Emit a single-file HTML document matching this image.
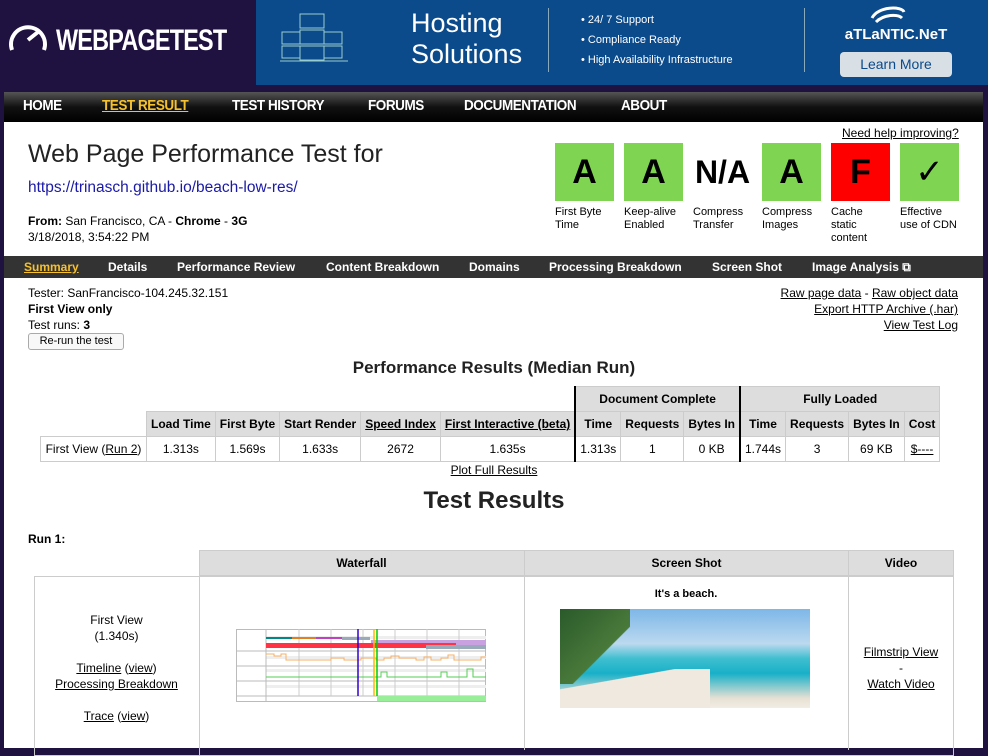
<!DOCTYPE html>
<html><head><meta charset="utf-8">
<style>
*{margin:0;padding:0;box-sizing:border-box}
body{width:988px;height:748px;overflow:hidden;background:#1f1140;font-family:"Liberation Sans",sans-serif;font-size:12px;color:#000;position:relative}
.a{position:absolute}
a{color:#000;text-decoration:underline}
.w{background:#fff}
.nav span{position:absolute;top:5px;color:#fff;font-weight:bold;font-size:15px;letter-spacing:-0.5px;transform:scaleX(.9);transform-origin:left}
.g{position:absolute;top:143px;width:59px;height:58px;background:#7fd452;font-size:34px;font-weight:bold;text-align:center;line-height:58px}
.gl{position:absolute;top:206px;font-size:11px;line-height:13px}
.sub span{position:absolute;top:4px;color:#fff;font-weight:bold;font-size:12px}
table{border-collapse:collapse;position:absolute;left:40px;top:386px;font-size:12px}
td{border:1px solid #ccc;text-align:center;padding:0 4px;height:25px;white-space:nowrap}
.h{background:#ddd;font-weight:bold}
.bl{border-left:2px solid #000}
</style></head><body>
<div class="a" style="left:8px;top:20px;color:#fff;font-size:30px;font-weight:bold;letter-spacing:-1px;white-space:nowrap">
<svg width="40" height="36" style="vertical-align:-6px" viewBox="0 0 40 36"><path d="M4 30 A17 17 0 1 1 36 30" stroke="#fff" stroke-width="4" fill="none"/><line x1="20" y1="20" x2="30" y2="12" stroke="#fff" stroke-width="4"/></svg><span style="display:inline-block;transform:scaleX(.78);transform-origin:left;margin-left:8px">WEBPAGETEST</span></div>
<div class="a" style="left:256px;top:0;width:732px;height:85px;background:#0b4a8b;color:#fff">
 <svg class="a" style="left:24px;top:12px" width="68" height="50"><g stroke="#9cc" fill="none"><rect x="20" y="2" width="24" height="14"/><rect x="20" y="18" width="24" height="14"/><rect x="20" y="34" width="24" height="14"/><rect x="2" y="20" width="18" height="12"/><rect x="2" y="34" width="18" height="12"/><rect x="44" y="20" width="18" height="12"/><rect x="44" y="34" width="18" height="12"/><line x1="0" y1="49" x2="68" y2="49"/></g></svg>
 <div class="a" style="left:155px;top:8px;font-size:27px;line-height:31px">Hosting<br>Solutions</div>
 <div class="a" style="left:292px;top:8px;width:1px;height:64px;background:#8ab"></div>
 <div class="a" style="left:325px;top:10px;font-size:11px;line-height:20px">• 24/ 7 Support<br>• Compliance Ready<br>• High Availability Infrastructure</div>
 <div class="a" style="left:548px;top:8px;width:1px;height:64px;background:#8ab"></div>
 <svg class="a" style="left:612px;top:4px" width="40" height="22"><path d="M4 14 C10 2 34 2 36 8 M8 18 C16 10 30 10 34 14" stroke="#fff" stroke-width="3" fill="none"/></svg>
 <div class="a" style="left:584px;top:26px;width:112px;text-align:center;font-size:15px;font-weight:bold">aTLaNTIC.NeT</div>
 <div class="a" style="left:584px;top:52px;width:112px;height:25px;background:#d8dfe5;border-radius:4px;color:#0b4a8b;font-size:14px;text-align:center;line-height:25px">Learn More</div>
</div>
<div class="a nav" style="left:4px;top:92px;width:979px;height:30px;background:linear-gradient(#555,#111 50%,#000)">
 <span style="left:19px">HOME</span>
 <span style="left:98px;color:#f6c12c;text-decoration:underline">TEST RESULT</span>
 <span style="left:228px">TEST HISTORY</span>
 <span style="left:364px">FORUMS</span>
 <span style="left:460px">DOCUMENTATION</span>
 <span style="left:617px">ABOUT</span>
</div>
<div class="a w" style="left:4px;top:122px;width:979px;height:626px"></div>
<a class="a" style="left:842px;top:126px">Need help improving?</a>
<div class="a" style="left:28px;top:140px;font-size:25px;color:#222">Web Page Performance Test for</div>
<a class="a" style="left:28px;top:179px;font-size:15.5px;color:#1a1aa6;text-decoration:none">https://trinasch.github.io/beach-low-res/</a>
<div class="a" style="left:28px;top:213px;font-size:12px;line-height:16px"><b>From:</b> San Francisco, CA - <b>Chrome</b> - <b>3G</b><br>3/18/2018, 3:54:22 PM</div>
<div class="g" style="left:555px">A</div>
<div class="g" style="left:624px">A</div>
<div class="g" style="left:691px;width:63px;background:none;font-size:32px">N/A</div>
<div class="g" style="left:762px">A</div>
<div class="g" style="left:831px;background:#f00">F</div>
<div class="g" style="left:900px;font-weight:normal">✓</div>
<div class="gl" style="left:555px">First Byte<br>Time</div>
<div class="gl" style="left:624px">Keep-alive<br>Enabled</div>
<div class="gl" style="left:693px">Compress<br>Transfer</div>
<div class="gl" style="left:762px">Compress<br>Images</div>
<div class="gl" style="left:831px">Cache<br>static<br>content</div>
<div class="gl" style="left:900px">Effective<br>use of CDN</div>
<div class="a sub" style="left:4px;top:256px;width:979px;height:22px;background:#333">
 <span style="left:20px;color:#f6c12c;text-decoration:underline">Summary</span>
 <span style="left:104px">Details</span>
 <span style="left:173px">Performance Review</span>
 <span style="left:322px">Content Breakdown</span>
 <span style="left:465px">Domains</span>
 <span style="left:545px">Processing Breakdown</span>
 <span style="left:708px">Screen Shot</span>
 <span style="left:808px">Image Analysis ⧉</span>
</div>
<div class="a" style="left:28px;top:285px;line-height:16px">Tester: SanFrancisco-104.245.32.151<br><b>First View only</b><br>Test runs: <b>3</b></div>
<div class="a" style="left:28px;top:333px;width:96px;height:17px;border:1px solid #aaa;border-radius:3px;font-size:11px;text-align:center;line-height:15px;background:#f8f8f8">Re-run the test</div>
<div class="a" style="right:30px;top:285px;text-align:right;line-height:16px">
<a>Raw page data</a> - <a>Raw object data</a><br>
<a>Export HTTP Archive (.har)</a><br>
<a>View Test Log</a></div>
<div class="a" style="left:0;width:988px;top:358px;text-align:center;font-size:17px;font-weight:bold;color:#222">Performance Results (Median Run)</div>
<table>
<tr><td colspan="6" style="border:none;height:24px"></td><td colspan="3" class="h bl">Document Complete</td><td colspan="4" class="h bl">Fully Loaded</td></tr>
<tr><td style="border:none;width:106px"></td><td class="h">Load Time</td><td class="h">First Byte</td><td class="h">Start Render</td><td class="h"><u>Speed Index</u></td><td class="h"><u>First Interactive (beta)</u></td><td class="h bl">Time</td><td class="h">Requests</td><td class="h">Bytes In</td><td class="h bl">Time</td><td class="h">Requests</td><td class="h">Bytes In</td><td class="h">Cost</td></tr>
<tr><td>First View (<u>Run 2</u>)</td><td>1.313s</td><td>1.569s</td><td>1.633s</td><td>2672</td><td>1.635s</td><td class="bl">1.313s</td><td>1</td><td>0 KB</td><td class="bl">1.744s</td><td>3</td><td>69 KB</td><td><u>$----</u></td></tr>
</table>
<a class="a" style="left:0;width:988px;top:463px;text-align:center">Plot Full Results</a>
<div class="a" style="left:0;width:988px;top:487px;text-align:center;font-size:24px;font-weight:bold;color:#222">Test Results</div>
<div class="a" style="left:28px;top:532px;font-weight:bold">Run 1:</div>
<div class="a" style="left:199px;top:550px;width:755px;height:26px;background:#ddd;border:1px solid #ccc"></div>
<div class="a" style="left:199px;top:550px;width:325px;text-align:center;line-height:26px;font-weight:bold">Waterfall</div>
<div class="a" style="left:524px;top:550px;width:324px;height:200px;border-left:1px solid #ccc;text-align:center;line-height:26px;font-weight:bold">Screen Shot</div>
<div class="a" style="left:848px;top:550px;width:106px;height:200px;border-left:1px solid #ccc;border-right:1px solid #ccc;text-align:center;line-height:26px;font-weight:bold">Video</div>
<div class="a" style="left:34px;top:576px;width:920px;height:180px;border:1px solid #ccc"></div>
<div class="a" style="left:199px;top:576px;height:180px;border-left:1px solid #ccc"></div>
<div class="a" style="left:34px;width:165px;top:612px;text-align:center;line-height:16px">First View<br>(1.340s)<br><br><a>Timeline</a> (<a>view</a>)<br><a>Processing Breakdown</a><br><br><a>Trace</a> (<a>view</a>)</div>
<svg class="a" style="left:236px;top:629px" width="250" height="74">
<rect x="0.5" y="0.5" width="249" height="72" fill="#fff" stroke="#bbb"/>
<rect x="30" y="7" width="220" height="3" fill="#eee"/><rect x="30" y="27" width="220" height="3" fill="#eee"/><rect x="30" y="40" width="220" height="3" fill="#eee"/><rect x="30" y="56" width="220" height="3" fill="#eee"/>
<line x1="30" y1="0" x2="30" y2="73" stroke="#bbb"/>
<line x1="0" y1="22" x2="250" y2="22" stroke="#bbb"/><line x1="0" y1="37" x2="250" y2="37" stroke="#bbb"/><line x1="0" y1="52" x2="250" y2="52" stroke="#bbb"/><line x1="0" y1="67" x2="250" y2="67" stroke="#bbb"/>
<g stroke="#ccc"><line x1="63" y1="0" x2="63" y2="67"/><line x1="95" y1="0" x2="95" y2="67"/><line x1="127" y1="0" x2="127" y2="67"/><line x1="159" y1="0" x2="159" y2="67"/><line x1="191" y1="0" x2="191" y2="67"/><line x1="223" y1="0" x2="223" y2="67"/></g>
<rect x="30" y="8" width="26" height="2" fill="#088"/><rect x="56" y="8" width="24" height="2" fill="#e08020"/><rect x="80" y="8" width="26" height="2" fill="#c040c0"/><rect x="106" y="8" width="28" height="3" fill="#9ab"/>
<rect x="135" y="11" width="125" height="5" fill="#c9a0e0"/>
<rect x="30" y="14" width="190" height="5" fill="#f34"/><rect x="190" y="16" width="60" height="4" fill="#9ab"/>
<polyline points="30,25 38,25 38,27 45,27 45,25 50,25 50,31 95,31 95,29 108,29 108,31 125,31 125,29 140,29 140,31 148,31 148,29 155,29 155,27 163,27 163,29 180,29 180,31 188,31 188,28 195,28 195,31 205,31 205,29 212,29 212,26 218,26 218,31 245,31 245,28 250,28" fill="none" stroke="#f9b060"/>
<polyline points="30,48 145,48 145,43 151,43 151,48 205,48 205,43 211,43 211,48 231,48 231,40 237,40 237,48 250,48" fill="none" stroke="#5c5"/>
<line x1="122" y1="0" x2="122" y2="67" stroke="#30c" stroke-width="1.5"/>
<line x1="138" y1="0" x2="138" y2="67" stroke="#fb0" stroke-width="1.5"/><line x1="141" y1="0" x2="141" y2="67" stroke="#0c0" stroke-width="1.5"/>
<rect x="141" y="67" width="109" height="5" fill="#9e9"/>
</svg>
<div class="a" style="left:524px;width:324px;top:588px;text-align:center;font-weight:bold;font-size:11px">It's a beach.</div>
<div class="a" style="left:560px;top:609px;width:250px;height:99px;background:linear-gradient(#7db7e8 0%,#bcd9ef 35%,#3fbfcf 50%,#18b0c8 65%,#e6e0d4 90%,#f2ede4);overflow:hidden">
<div style="position:absolute;left:0;top:0;width:70px;height:75px;background:linear-gradient(135deg,#2a5a2a,#4a7a3a 60%,transparent 61%)"></div>
<div style="position:absolute;left:0;top:60px;width:150px;height:40px;background:linear-gradient(170deg,transparent 30%,#efe9df 31%)"></div></div>
<div class="a" style="left:848px;width:106px;top:644px;text-align:center;line-height:16px"><a>Filmstrip View</a><br>-<br><a>Watch Video</a></div>
</body></html>
